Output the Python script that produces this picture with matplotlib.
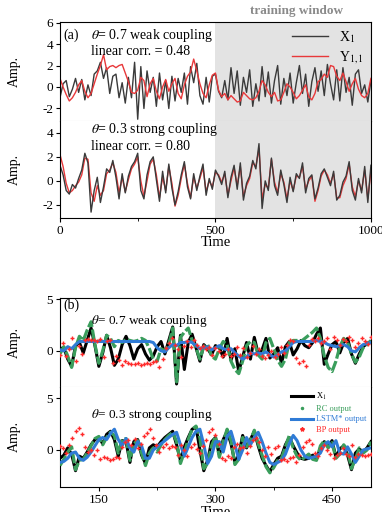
import numpy as np
import matplotlib
matplotlib.use('Agg')
import matplotlib.pyplot as plt
from matplotlib.lines import Line2D

plt.rcParams['font.family'] = ['Liberation Serif', 'DejaVu Serif']
plt.rcParams['mathtext.fontset'] = 'stix'
plt.rcParams['axes.unicode_minus'] = False

# ---- panel (a): step of 10 time units, t = 0..1000
t_a = np.arange(0, 1001, 10)

x_weak = [-1.0, 0.3, 0.6, -0.9, -0.2, 0.8, -0.5, 0.7, -1.2, 0.2,
          -0.8, 1.2, 1.5, 2.3, 0.8, 1.8, -0.6, 1.0, 1.2, -1.0,
          0.4, -1.5, 0.9, -1.0, 2.3, -3.0, 1.9, -2.0, 1.5, -0.5,
          0.9, -1.8, 1.3, -1.2, 0.6, -2.0, 1.0, -1.3, 0.8, -0.5,
          1.3, -1.6, 1.9, 0.4, 2.2, -0.8, -1.6, 0.9, -1.4, 1.0,
          1.2, -0.4, -1.0, 0.6, -1.2, 1.8, -0.6, 1.5, -1.7, 0.9,
          -0.5, 1.6, -1.8, 0.3, -1.3, 1.9, -0.9, 1.4, -1.5, 0.6,
          2.0, -1.6, 0.8, -0.8, 1.3, -1.5, 0.4, 2.0, -0.6, 1.2,
          -1.8, 0.5, 1.8, -0.4, 1.5, -0.8, 2.1, 0.3, -1.2, 1.6,
          -1.3, 1.8, -0.5, 0.9, -1.7, 1.2, 1.6, -0.6, 0.2, -1.4, 0.6]
y_weak = [0.8, 0.0, -0.7, -1.3, -1.0, -0.5, 0.2, 0.6, -0.4, -1.0,
          -0.6, 0.3, 1.2, 2.0, 3.0, 1.6, 1.9, 2.0, 1.8, 2.0,
          2.1, 1.3, 0.5, -0.5, -0.6, -0.3, 0.9, 0.6, -0.9, 0.3,
          0.8, -0.4, -1.1, 0.0, 0.7, -0.4, 0.3, 0.8, -0.6, -1.1,
          0.2, 1.0, 1.4, 2.6, 1.5, 0.3, -0.6, -1.0, 0.2, 1.1,
          1.3, -0.3, -0.9, -0.6, -1.2, -0.8, -1.1, -1.4, -1.3, -0.5,
          -0.8, -1.1, -1.2, -1.0, -0.4, 0.6, 0.2, -0.5, -0.9, -0.5,
          -1.3, -1.2, -0.5, 0.3, 0.0, -0.5, -1.1, -0.8, -0.3, 0.2,
          -0.9, -1.2, -0.6, 0.5, 0.7, 1.2, 0.9, 2.0, 1.9, 1.0,
          0.6, 1.3, 0.5, -0.4, 0.3, 0.8, -0.2, -0.8, -1.0, -0.6, 0.8]
x_strong = [1.3, 0.5, -0.8, -1.1, -0.3, -0.6, 0.2, 0.9, 2.3, 1.5,
            -2.6, -0.8, 0.3, -1.8, -0.5, 1.0, 0.7, 1.7, 0.3, -1.5,
            0.6, -1.0, 0.4, 1.2, 1.6, 2.3, -0.8, -1.5, 0.5, 1.6,
            2.0, 0.1, -1.7, 0.8, -1.0, 1.4, -0.6, -2.0, -0.9, 0.5,
            1.6, -0.5, -1.5, 0.6, -0.8, 0.4, 1.4, -1.2, 0.2, -0.7,
            0.9, 0.4, -0.3, 0.8, -1.4, 0.3, 1.3, -0.7, 1.5, -1.6,
            -0.2, 0.4, 1.7, 1.0, 3.1, -2.3, 0.0, -0.8, 1.9, -0.4,
            -1.2, 0.9, -0.3, -1.8, 0.3, -0.9, 0.6, 0.2, 1.5, -1.0,
            0.2, 0.5, -1.5, -0.6, 0.6, 1.0, 0.3, -0.4, 0.8, -1.6,
            -1.2, -0.1, 0.4, 1.6, -0.8, -1.6, 0.2, -1.0, 1.2, -1.8, 1.3]
y_strong = [2.2, 1.2, -0.2, -1.0, -0.8, -0.4, -0.1, 0.5, 1.9, 1.8,
            -1.0, -1.7, -0.4, -1.2, -0.8, 0.6, 0.9, 1.5, 0.7, -1.0,
            0.3, -0.9, 0.1, 1.0, 1.4, 2.0, 0.0, -1.3, 0.0, 1.4,
            1.8, 0.5, -1.4, 0.3, -0.8, 1.2, -0.2, -2.1, -1.2, 0.2,
            1.4, -0.2, -1.4, 0.3, -0.6, 0.2, 1.1, -0.9, 0.0, -0.5,
            0.7, 0.5, -0.1, 0.6, -1.2, 0.0, 1.1, -0.4, 1.2, -1.3,
            -0.4, 0.2, 1.5, 1.2, 2.7, -1.5, -0.3, -0.6, 1.8, -0.1,
            -1.0, 0.6, -0.1, -1.5, 0.0, -0.8, 0.4, 0.3, 1.2, -0.7,
            0.0, 0.4, -1.7, -0.8, 0.4, 0.9, 0.5, -0.2, 0.6, -1.4,
            -1.4, -0.4, 0.2, 1.4, -0.5, -1.3, 0.0, -0.8, 0.9, -1.5, 0.8]

# ---- panel (b): lines every 5 time units, BP points every 4
t_b = np.arange(100, 501, 5)
t_bp = np.arange(100, 501, 4)

xb_weak = [0.2, 0.3, -0.8, -1.5, 0.5, 0.8, -0.2, 1.0, 2.2, 0.5,
           -1.5, -0.2, 1.5, 0.3, -1.4, -0.8, 0.6, 1.4, 0.5, -0.8,
           0.2, 0.6, -0.3, -0.9, -0.5, 0.4, 0.9, -0.3, 1.0, 2.3,
           -3.2, 1.5, -1.8, 0.8, 1.6, 0.3, -1.0, 0.6, 0.2, -0.4,
           0.5, 0.3, -0.6, 1.2, -0.9, 0.2, -2.0, -0.6, 0.8, -0.8,
           1.3, -0.3, 0.1, 1.2, -0.7, -0.3, 0.3, -1.2, 0.4, 0.9,
           -0.4, 0.2, 1.0, 0.5, 0.3, 0.8, 1.6, 2.2, -1.3, -0.3,
           0.6, 0.9, -0.2, 0.8, 1.2, -0.3, -1.2, -0.3, 0.4, 0.7, 0.9]
rc_weak = [-0.3, 0.4, -0.5, -1.6, 0.3, 1.4, 1.0, 2.0, 2.8, 0.6,
           -1.2, 0.0, 1.5, 1.2, 0.4, 1.0, 0.8, 1.1, 1.0, 0.9,
           1.0, 1.2, 1.0, 0.2, -0.8, -1.0, 0.2, 0.0, 0.6, 2.2,
           -3.0, 1.3, 1.8, 2.2, 1.0, 0.3, -0.8, 0.4, 0.6, -0.5,
           -0.8, 0.2, 0.9, 0.6, -1.0, -1.8, -2.2, -1.0, 0.5, 0.9,
           0.8, -0.4, -0.8, 0.8, 1.2, 0.2, -0.9, -1.5, -0.8, 0.8,
           1.0, 1.0, 0.9, 1.2, 1.5, 1.8, 2.2, 1.2, -0.5, -1.6,
           -2.0, -1.0, 0.4, 1.2, 0.8, -0.3, -1.1, -0.6, 0.3, 0.6, 1.0]
lstm_weak = [0.1, 0.0, 0.4, 0.2, 0.6, 0.9, 0.9, 0.9, 0.9, 0.9,
             0.9, 0.9, 0.9, 0.9, 0.9, 0.9, 0.9, 0.9, 0.9, 0.9,
             0.9, 0.9, 0.9, 0.9, 0.8, 0.3, 0.0, -0.1, 0.3, 0.6,
             0.5, 0.8, 0.8, 0.9, 0.8, 0.5, 0.2, 0.3, 0.4, 0.1,
             0.3, 0.5, 0.2, 0.1, 0.2, -0.2, -0.5, -0.8, -0.6, -0.2,
             -0.3, -0.2, -0.3, -0.1, -0.4, -0.6, -0.4, -0.1, 0.0, 0.4,
             0.8, 0.9, 0.9, 0.9, 0.9, 0.9, 1.0, 0.9, 0.8, 0.6,
             0.5, 0.4, 0.5, 0.6, 0.4, 0.0, -0.1, 0.3, 0.6, 0.7, 0.8]
bp_weak = [-0.4, 0.8, -0.5, 0.2, 1.2, -1.0, 0.5, -0.3, 1.0, 1.1, 1.0,
           1.0, 0.9, 1.1, -0.6, 0.9, 1.0, -1.2, -0.5, -0.9,
           -1.4, -1.0, -1.2, -1.3, -1.3, -1.2, -1.4, -1.3, -1.2, -1.3,
           -1.1, -1.0, -1.6, -0.8, 0.3,
           0.8, 1.2, 0.6, 0.2, -0.6, 0.5, 0.9, 0.4, 1.0, 0.6,
           0.3, 0.5, 0.2, 0.4, -0.4, 0.3, 0.0, -0.5, -0.3, 0.2,
           -0.5, -0.3, 0.4, -0.4, 0.3, -0.6, -0.2, 0.5, -0.3, 0.2,
           -0.5, -0.7, -0.4, 0.0, -0.6, -0.3, 0.4, -0.2, 0.6, 1.0,
           0.9, -0.7, -1.2, -1.0, -1.5, 0.6, 1.1, 0.9, 1.2, 0.8,
           0.9, 1.2, 0.2, 1.3, 1.0, 0.6, 1.1, 0.9, 1.3, 1.0,
           0.4, 0.8, 1.2, 0.9, 0.7, 1.3]

xb_strong = [-0.8, -0.5, 0.2, -0.4, -2.0, -0.6, -0.8, -0.2, 0.5, 1.0,
             1.2, 0.6, 1.5, 1.8, 1.0, -0.6, 0.9, 0.8, -1.2, 0.8,
             1.0, -0.5, -1.3, 0.2, 0.5, 0.3, 0.8, 1.2, 1.5, 1.8,
             0.5, -1.0, 0.3, 1.2, 2.0, 2.2, 0.0, -2.0, -1.0, 0.8,
             1.2, -0.5, 1.0, 1.8, 0.6, -1.2, -0.5, 1.4, 0.2, 1.0,
             1.8, 0.4, -0.8, -1.5, -2.1, -1.4, -0.8, -0.6, 0.5, 1.2,
             0.4, -0.3, -0.8, -0.9, -0.8, -0.5, -0.9, 0.2, 0.8, 0.3,
             0.9, -0.7, 0.1, 0.4, -0.5, -1.9, -0.3, 0.1, -0.2, 0.2, 0.8]
rc_strong = [-1.5, -0.9, -0.2, 0.3, -1.9, -1.0, -0.9, -0.3, 0.4, 1.1,
             1.3, 0.5, 1.2, 1.7, 1.4, -0.3, 1.0, 1.1, -1.0, 0.6,
             0.9, -0.3, -1.5, -0.3, 0.2, -0.2, 0.5, 1.0, 1.4, 1.7,
             0.8, -1.3, -0.2, 1.0, 2.0, 2.3, 1.2, -1.8, -1.3, 0.4,
             1.3, -0.7, 0.8, 2.0, 0.9, -1.4, -0.9, 1.2, 0.3, 0.9,
             1.9, 0.6, -0.5, -1.6, -2.2, -1.7, -1.0, -0.8, 0.3, 1.4,
             0.2, -0.6, -1.0, -0.7, -0.4, -0.9, -1.0, 0.4, 0.9, 0.2,
             0.7, -0.8, -0.4, 0.5, 0.0, -1.8, -0.9, 0.2, -0.3, 0.0, 0.8]
lstm_strong = [-1.2, -1.1, -0.8, -0.3, -0.2, -0.8, -1.0, -0.7, -0.2, 0.4,
               1.0, 1.2, 1.0, 1.6, 2.0, 1.0, 0.4, 1.1, 0.2, -0.2,
               0.8, 0.4, -0.8, -0.8, 0.0, 0.3, 0.6, 0.9, 1.2, 1.5,
               1.7, 0.5, -0.6, 0.3, 1.2, 1.8, 2.0, 0.5, -1.3, -0.6,
               0.8, 0.8, -0.2, 1.3, 1.8, 0.5, -0.9, 0.0, 1.2, 0.5,
               1.2, 1.7, 0.8, -0.3, -1.2, -1.4, -1.2, -1.0, -0.4, 0.6,
               1.4, 0.9, 0.0, -0.6, -0.8, -0.7, -0.6, -0.3, 0.5, 0.8,
               0.3, 0.9, -0.3, -0.4, 0.3, -0.4, -1.2, -0.6, 0.0, 0.1, 0.2]
bp_strong = [0.4, 0.2, -0.3, 0.5, 1.2, 1.8, 2.1, 1.5, 0.3, -0.2, 0.0,
             -0.5, 0.0, -0.9, -0.7, -0.8, -1.0, -0.9, -0.7, -0.8,
             0.3, 0.8, 1.0, 0.5, 1.1, 0.2, 0.6, 1.3, 1.6, 2.0,
             1.2, 0.5, -0.2, 0.3, 0.6,
             0.2, 0.4, 0.3, -0.5, 0.5, 0.0, -0.6, 0.3, 0.6, 0.1,
             -0.3, 0.4, 1.0, 1.7, 2.0, 1.4, 0.6, -0.8, -1.0, -0.6,
             -0.8, 0.3, 0.6, 0.2, 0.3, -0.3, 0.4, 1.0, 1.2, 0.8,
             0.0, -0.6, 0.3, -0.4, 0.2, 0.4, -1.0, -0.9, -1.1, -0.8,
             -0.7, -1.2, -0.5, 0.3, 0.8, 1.0, 0.6, -0.3, -0.6, 0.2,
             0.5, 0.0, -0.4, -0.8, -0.5, -0.3, 0.2, -0.4, -0.6, 0.5,
             -0.7, -0.4, -0.5, -0.6, -0.5, -0.4]

RED = '#e8383a'
GREEN = '#3a9e5c'
BLUE = '#2f7bd6'
BPRED = '#ff2a2a'
SEP = '#cccccc'
FS = 9.5

fig = plt.figure(figsize=(3.82, 5.12), dpi=100)
L, W = 0.157, 0.814


def style_pair(top, bot):
    top.spines['bottom'].set_color(SEP)
    top.spines['bottom'].set_linewidth(0.8)
    bot.spines['top'].set_visible(False)
    top.tick_params(axis='x', bottom=False, labelbottom=False)
    for ax in (top, bot):
        ax.tick_params(axis='y', labelsize=FS, length=3, pad=2)
        ax.set_ylabel('Amp.', fontsize=FS + 0.5)
        ax.yaxis.set_label_coords(-0.125, 0.5)


# ---- (a)
a1 = fig.add_axes([L, 0.764, W, 0.193])
a2 = fig.add_axes([L, 0.574, W, 0.190])
for ax in (a1, a2):
    ax.axvspan(500, 1000, color='#e3e3e3', lw=0, zorder=0)
    ax.set_xlim(0, 1000)
a1.plot(t_a, x_weak, color='#3a3a3a', lw=1.0, label='X$_1$')
a1.plot(t_a, y_weak, color=RED, lw=1.0, label='Y$_{1,1}$')
a2.plot(t_a, y_strong, color=RED, lw=1.0)
a2.plot(t_a, x_strong, color='#3a3a3a', lw=1.0)
a1.set_ylim(-3.15, 6.05)
a1.set_yticks([6, 4, 2, 0, -2])
a2.set_ylim(-3.1, 5.0)
a2.set_yticks([4, 2, 0, -2])
a2.set_xticks([0, 500, 1000])
a2.set_xticks([250, 750], minor=True)
a2.tick_params(axis='x', labelsize=FS, length=3, pad=2)
a2.tick_params(axis='x', which='minor', length=2)
a2.set_xlabel('Time', fontsize=FS + 1, labelpad=-1)
style_pair(a1, a2)
a1.legend(loc='upper right', frameon=False, fontsize=FS + 0.5,
          handlelength=2.6, borderaxespad=0.1, labelspacing=0.35)
a1.text(0.012, 0.93, '(a)', transform=a1.transAxes, fontsize=FS + 0.5, va='top')
a1.text(0.1, 0.95, r'$\theta$= 0.7 weak coupling', transform=a1.transAxes,
        fontsize=FS + 0.5, va='top')
a1.text(0.1, 0.77, 'linear corr. = 0.48', transform=a1.transAxes,
        fontsize=FS + 0.5, va='top')
a2.text(0.1, 1.0, r'$\theta$= 0.3 strong coupling', transform=a2.transAxes,
        fontsize=FS + 0.5, va='top')
a2.text(0.1, 0.8, 'linear corr. = 0.80', transform=a2.transAxes,
        fontsize=FS + 0.5, va='top')
a1.text(760, 6.5, 'training window', fontsize=FS, color='#8a8a8a',
        fontweight='bold', ha='center', va='bottom')

# ---- (b)
b1 = fig.add_axes([L, 0.244, W, 0.174])
b2 = fig.add_axes([L, 0.049, W, 0.195])
for ax, xs, rc, ls, bp in ((b1, xb_weak, rc_weak, lstm_weak, bp_weak),
                           (b2, xb_strong, rc_strong, lstm_strong, bp_strong)):
    ax.plot(t_b, xs, color='black', lw=2.2, zorder=2)
    ax.plot(t_b, rc, color=GREEN, lw=2.3, ls=(0, (3.5, 0.8)), zorder=3)
    ax.plot(t_b, ls, color=BLUE, lw=2.2, zorder=4)
    ax.plot(t_bp, bp, ls='none', marker='+', ms=3.2, mew=1.0, color=BPRED, zorder=5)
    ax.set_xlim(100, 500)
    ax.set_yticks([5, 0])
b1.set_ylim(-3.5, 5.1)
b2.set_ylim(-3.56, 6.06)
b2.set_xticks([150, 300, 450])
b2.set_xticks([225, 375], minor=True)
b2.tick_params(axis='x', labelsize=FS, length=3, pad=2)
b2.tick_params(axis='x', which='minor', length=2)
b2.set_xlabel('Time', fontsize=FS + 1, labelpad=0)
style_pair(b1, b2)
b1.text(0.012, 0.99, '(b)', transform=b1.transAxes, fontsize=FS + 0.5, va='top')
b1.text(0.1, 0.83, r'$\theta$= 0.7 weak coupling', transform=b1.transAxes,
        fontsize=FS, va='top')
b2.text(0.1, 0.8, r'$\theta$= 0.3 strong coupling', transform=b2.transAxes,
        fontsize=FS, va='top')
handles = [Line2D([], [], color='black', lw=2.2),
           Line2D([], [], color=GREEN, ls='none', marker='.', ms=3),
           Line2D([], [], color=BLUE, lw=2.2),
           Line2D([], [], color=BPRED, ls='none', marker='*', ms=3)]
leg = b2.legend(handles, ['X$_1$', 'RC output', 'LSTM* output', 'BP output'],
                loc='upper right', frameon=False, fontsize=6,
                handlelength=2.6, borderaxespad=0.1, labelspacing=0.3,
                handletextpad=0.4)
for txt, c in zip(leg.get_texts(), ['black', GREEN, BLUE, BPRED]):
    txt.set_color(c)

fig.savefig('out.png', dpi=100)
